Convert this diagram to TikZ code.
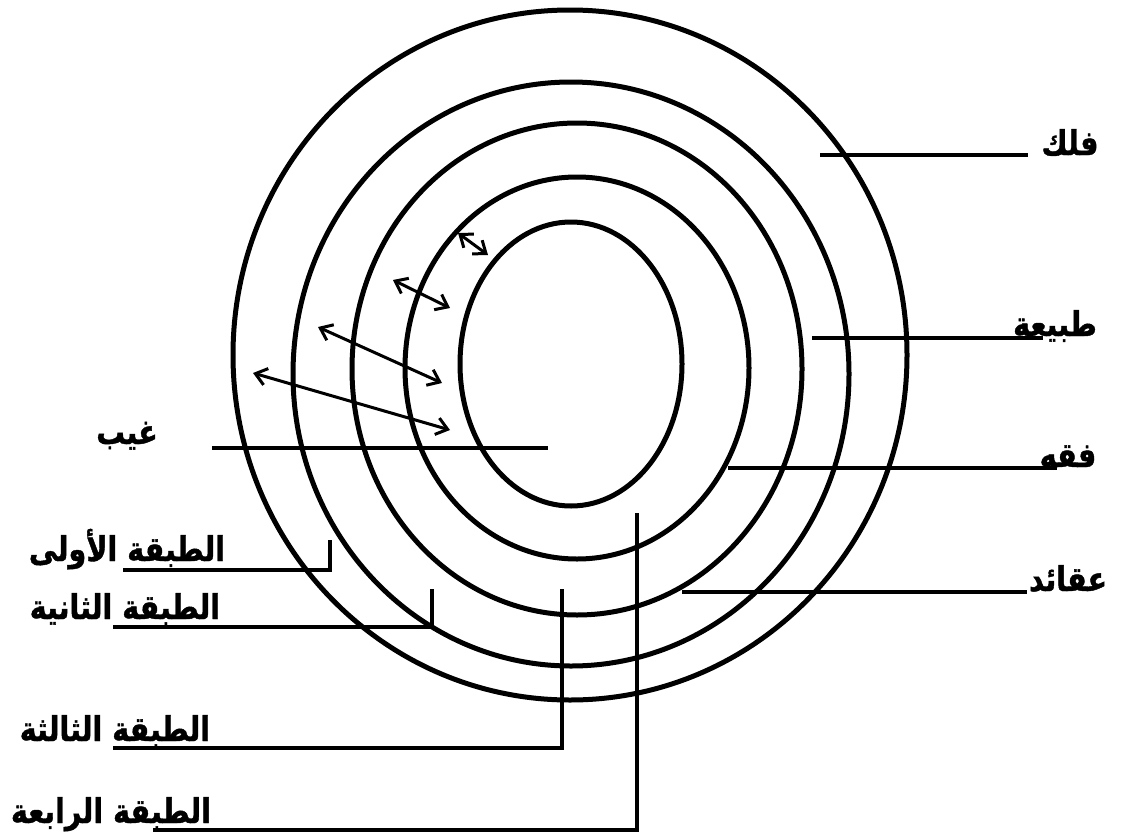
\documentclass[tikz,border=0pt]{standalone}
\usepackage{fontspec}
\newfontfamily\arabicfont[Script=Arabic, FakeStretch=0.84, BoldFeatures={FakeBold=1.2}]{DejaVu Sans}
\TeXXeTstate=1
\usetikzlibrary{arrows.meta}

\tikzset{
  ring/.style={draw=black, line width=5pt},
  leader/.style={draw=black, line width=3.2pt},
  barb/.tip={Straight Barb[length=11pt,width=17pt,line width=3pt]},
  twoway/.style={draw=black, line width=3pt, barb-barb},
  lbl/.style={font=\arabicfont\bfseries\fontsize{34}{38}\selectfont, inner sep=0pt, anchor=base}
}

\begin{document}
\begin{tikzpicture}[x=1pt,y=-1pt]
\useasboundingbox[fill=white] (0,0) rectangle (1124,835);
% rings, outside in
\foreach \cx/\cy/\rx/\ry in {570/355/337/345, 571/374/278/292, 577/369/225/246, 577/368/172/191, 571/364/111/142} {
  \draw[ring] (\cx,\cy) ellipse [x radius=\rx, y radius=\ry];
}
% two-way arrows across the bands
\coordinate (a1) at (458,233); \coordinate (b1) at (488,255);
\coordinate (a2) at (393,280); \coordinate (b2) at (450,308);
\coordinate (a3) at (318,327); \coordinate (b3) at (442,383);
\coordinate (a4) at (253,373); \coordinate (b4) at (450,430);
\foreach \i in {1,...,4} {
  \draw[twoway] (a\i) -- (b\i);
}
% labels on the right
\node[lbl] (falak) at (1070,155) {\beginR فلك\endR};
\node[lbl] (tabia) at (1055,336) {\beginR طبيعة\endR};
\node[lbl] (fiqh) at (1068,467) {\beginR فقه\endR};
\node[lbl] (aqaid) at (1068,591) {\beginR عقائد\endR};
\node[lbl] (ghayb) at (127,444) {\beginR غيب\endR};
% labels of the layers
\node[lbl] (oula) at (127,561) {\beginR الطبقة الأولى\endR};
\node[lbl] (thania) at (125,619) {\beginR الطبقة الثانية\endR};
\node[lbl] (thalitha) at (115,741) {\beginR الطبقة الثالثة\endR};
\node[lbl] (rabia) at (111,823) {\beginR الطبقة الرابعة\endR};
% leader lines
\coordinate (pFalak) at (820,155);
\coordinate (pTabia) at (812,338);
\coordinate (pFiqh) at (728,468);
\coordinate (pAqaid) at (682,592);
\coordinate (pGhayb) at (548,448);
\draw[leader] (pFalak) -- (1028,155);
\draw[leader] (pTabia) -- (1043,338);
\draw[leader] (pFiqh) -- (1057,468);
\draw[leader] (pAqaid) -- (1027,592);
\draw[leader] (212,448) -- (pGhayb);
\coordinate (pOula) at (330,540);
\coordinate (pThania) at (432,589);
\coordinate (pThalitha) at (562,589);
\coordinate (pRabia) at (637,513);
\draw[leader] (123,570) -| (pOula);
\draw[leader] (113,627) -| (pThania);
\draw[leader] (113,748) -| (pThalitha);
\draw[leader] (153,830) -| (pRabia);
\end{tikzpicture}
\end{document}
